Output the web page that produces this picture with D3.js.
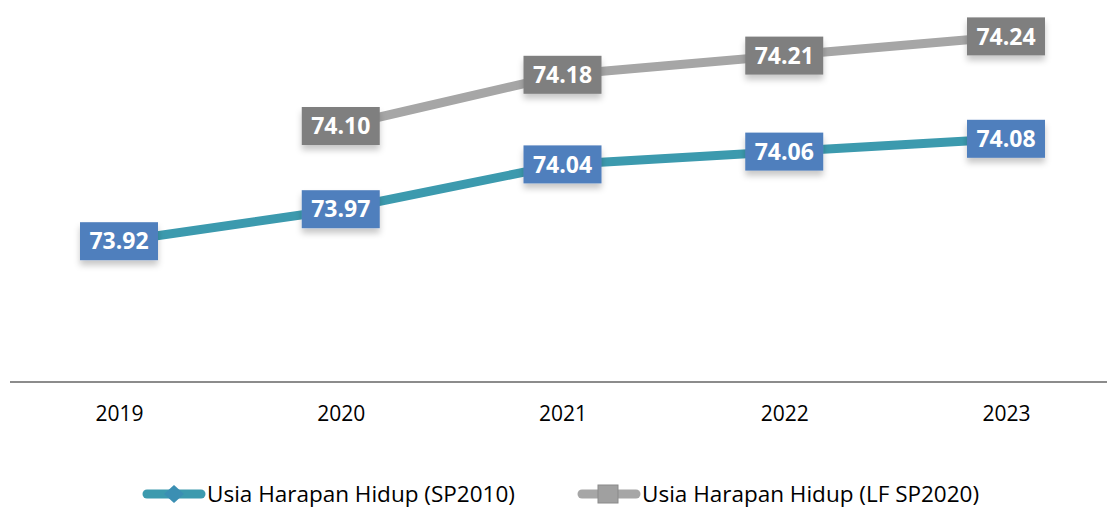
<!DOCTYPE html>
<meta charset="utf-8">
<title>Usia Harapan Hidup</title>
<style>
body { margin: 0; background: white; font-family: 'Open Sans', Arial, sans-serif; }
svg { display: block; }
</style>
<body>
<script src="https://d3js.org/d3.v7.min.js"></script>
<script>
// data
var years = ["2019", "2020", "2021", "2022", "2023"];
var sp2010 = [73.92, 73.97, 74.04, 74.06, 74.08];
var lfsp2020 = [null, 74.10, 74.18, 74.21, 74.24];
var seriesNames = ["Usia Harapan Hidup (SP2010)", "Usia Harapan Hidup (LF SP2020)"];

const width = 1107, height = 511;

var svg = d3.select("body").append("svg")
  .attr("width", width)
  .attr("height", height);

var defs = svg.append("defs");
var f = defs.append("filter").attr("id", "shadow").attr("x", "-20%").attr("y", "-20%").attr("width", "140%").attr("height", "160%");
f.append("feDropShadow").attr("dx", 0).attr("dy", 5).attr("stdDeviation", 3)
  .attr("flood-color", "#000").attr("flood-opacity", 0.22);

var x = d3.scalePoint()
  .domain(years)
  .range([119, 1006]);

var y = d3.scaleLinear()
  .domain([73.7, 74.3])
  .range([382, -2]);

// x axis
var xAxis = svg.append("g")
  .attr("transform", "translate(0,382)")
  .call(d3.axisBottom(x).tickSize(0).tickPadding(24));
xAxis.select(".domain").remove();
xAxis.append("line")
  .attr("x1", 10).attr("x2", width)
  .attr("stroke", "#8c8c8c").attr("stroke-width", 2);
xAxis.attr("font-size", null).attr("font-family", null);
xAxis.selectAll("text")
  .attr("font-family", "'Open Sans', sans-serif")
  .attr("font-size", "21px")
  .attr("fill", "#000");

var series = [
  {name: seriesNames[0], values: sp2010, line: "#3c9aae", box: "#4f7fbd"},
  {name: seriesNames[1], values: lfsp2020, line: "#a6a6a6", box: "#7f7f7f"}
];

var line = d3.line()
  .defined(function(d) { return d.v != null; })
  .x(function(d) { return x(d.year); })
  .y(function(d) { return y(d.v); });

series.forEach(function(s) {
  var pts = years.map(function(yr, i) { return {year: yr, v: s.values[i]}; });
  svg.append("path")
    .datum(pts)
    .attr("fill", "none")
    .attr("stroke", s.line)
    .attr("stroke-width", 9)
    .attr("stroke-linecap", "round")
    .attr("d", line);
});

// value labels
series.forEach(function(s) {
  var pts = years.map(function(yr, i) { return {year: yr, v: s.values[i]}; })
    .filter(function(d) { return d.v != null; });
  var g = svg.selectAll(null).data(pts).enter().append("g")
    .attr("transform", function(d) { return "translate(" + x(d.year) + "," + y(d.v) + ")"; });
  g.append("rect")
    .attr("x", -39).attr("y", -19)
    .attr("width", 78).attr("height", 38)
    .attr("fill", s.box)
    .attr("filter", "url(#shadow)");
  g.append("text")
    .attr("text-anchor", "middle")
    .attr("dy", "0.36em")
    .attr("fill", "white")
    .style("font-weight", "bold")
    .style("font-size", "23px")
    .text(function(d) { return d.v.toFixed(2); });
});

// legend
var legendX = [143, 578];
series.forEach(function(s, i) {
  var lg = svg.append("g").attr("transform", "translate(" + legendX[i] + ",494)");
  lg.append("line")
    .attr("x1", 4).attr("x2", 58)
    .attr("stroke", s.line).attr("stroke-width", 9)
    .attr("stroke-linecap", "round");
  if (i === 0) {
    lg.append("path")
      .attr("d", "M31,-9 L41,0 L31,9 L21,0 Z")
      .attr("fill", "#3b8fb3");
  } else {
    lg.append("rect")
      .attr("x", 20).attr("y", -9).attr("width", 20).attr("height", 18)
      .attr("fill", "#a0a0a0").attr("stroke", "#8a8a8a");
  }
  lg.append("text")
    .attr("x", 64)
    .attr("dy", "0.35em")
    .style("font-size", "22.5px")
    .attr("fill", "#000")
    .text(s.name);
});
</script>
</body>
